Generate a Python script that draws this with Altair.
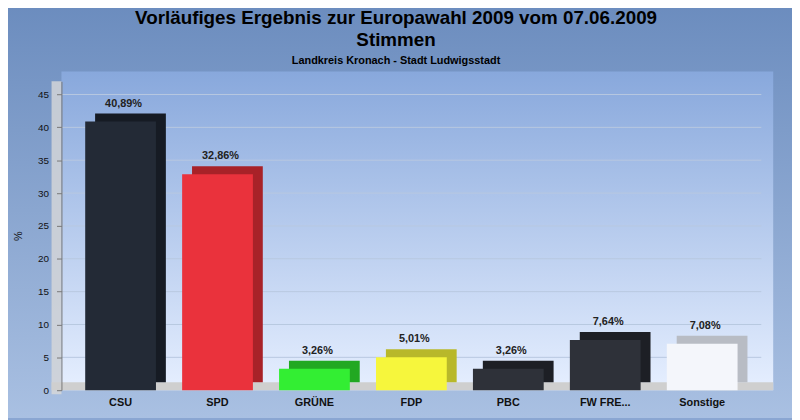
import altair as alt
import pandas as pd

parties = ["CSU", "SPD", "GRÜNE", "FDP", "PBC", "FW FRE...", "Sonstige"]
values = [40.89, 32.86, 3.26, 5.01, 3.26, 7.64, 7.08]
labels = ["40,89%", "32,86%", "3,26%", "5,01%", "3,26%", "7,64%", "7,08%"]
colors = ["#232a36", "#ea323c", "#33ee33", "#f6f63c", "#2e3139", "#2e3139", "#f4f6fb"]
sides = ["#161b24", "#a82228", "#22a822", "#b8b82a", "#1d1f25", "#1d1f25", "#b8bcc4"]
grid_ticks = [5, 10, 15, 20, 25, 30, 35, 40, 45]
title_lines = ["Vorläufiges Ergebnis zur Europawahl 2009 vom 07.06.2009", "Stimmen"]
subtitle = "Landkreis Kronach - Stadt Ludwigsstadt"

W, H = 707, 312
df = pd.DataFrame({"party": parties, "value": values, "label": labels,
                   "color": colors, "side": sides})
one = pd.DataFrame({"a": [0]})

x = alt.X("party:N", sort=parties, title=None,
          scale=alt.Scale(paddingInner=0.27, paddingOuter=0.245),
          axis=alt.Axis(labelAngle=0, labelFontWeight="bold", labelFontSize=11,
                        labelColor="#111", domain=False, ticks=False,
                        labelPadding=6, zindex=2))
y = alt.Y("value:Q", title="%", scale=alt.Scale(domain=[0, 47], nice=False),
          axis=alt.Axis(values=[0] + grid_ticks, labelFontSize=10, labelColor="#111",
                        labelOverlap=False, grid=False, domainColor="#777",
                        tickColor="#777", titleFontSize=11, titleFontWeight="normal",
                        titleColor="#111", titlePadding=14, labelPadding=8, zindex=2))

page_bg = alt.Chart(one).mark_rect(
    color=alt.Gradient(gradient="linear", x1=0, y1=0, x2=0, y2=1,
                       stops=[alt.GradientStop(color="#6b8cbe", offset=0),
                              alt.GradientStop(color="#a9c0e2", offset=1)])
).encode(x=alt.value(-62), x2=alt.value(W + 40), y=alt.value(-80), y2=alt.value(H + 28))

plot_bg = alt.Chart(one).mark_rect(
    color=alt.Gradient(gradient="linear", x1=0, y1=0, x2=0, y2=1,
                       stops=[alt.GradientStop(color="#88a8dc", offset=0),
                              alt.GradientStop(color="#e6efff", offset=1)])
).encode(x=alt.value(0), x2=alt.value(W + 12), y=alt.value(-10), y2=alt.value(H))

wall = alt.Chart(one).mark_rect(color="#d8d8d8", opacity=0.8).encode(
    x=alt.value(-10), x2=alt.value(0), y=alt.value(0), y2=alt.value(H + 4))
floor = alt.Chart(one).mark_rect(color="#cfcfcf").encode(
    x=alt.value(-10), x2=alt.value(W + 12), y=alt.value(H - 8), y2=alt.value(H))

grid = alt.Chart(pd.DataFrame({"value": grid_ticks})).mark_rule(
    color="#b8c8e0", strokeWidth=1).encode(y=y)

back = alt.Chart(df).mark_bar(xOffset=10, yOffset=-8, y2Offset=-8).encode(
    x=x, y=y, color=alt.Color("side:N", scale=None))
front = alt.Chart(df).mark_bar().encode(
    x=x, y=y, color=alt.Color("color:N", scale=None))
text = alt.Chart(df).mark_text(dy=-18, dx=3, fontWeight="bold", fontSize=11,
                               color="#222").encode(x=x, y=y, text="label:N")

titles = pd.DataFrame({"t": title_lines})
title1 = alt.Chart(titles.iloc[[0]]).mark_text(
    fontSize=19, fontWeight="bold", color="#000").encode(
    x=alt.value(338), y=alt.value(-64), text="t:N")
title2 = alt.Chart(titles.iloc[[1]]).mark_text(
    fontSize=19, fontWeight="bold", color="#000").encode(
    x=alt.value(338), y=alt.value(-42), text="t:N")
sub = alt.Chart(pd.DataFrame({"t": [subtitle]})).mark_text(
    fontSize=11, fontWeight="bold", color="#000").encode(
    x=alt.value(338), y=alt.value(-21), text="t:N")

chart = (page_bg + plot_bg + wall + floor + grid + back + front + text
         + title1 + title2 + sub).properties(
    width=W, height=H,
    autosize=alt.AutoSizeParams(type="none"),
    padding={"left": 54, "top": 72, "right": 31, "bottom": 28},
).configure_view(stroke=None).configure(font="Liberation Sans", background="#8aa6d2")

chart.save("out.html", embed_options={"renderer": "svg", "actions": False})
